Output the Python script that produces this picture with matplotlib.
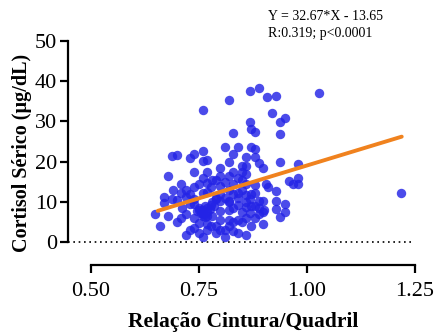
import matplotlib
matplotlib.use("Agg")
import matplotlib.pyplot as plt
import numpy as np

plt.rcParams['font.family'] = ['Liberation Serif', 'DejaVu Serif']

# Data
x_vals = [0.869, 0.889, 0.908, 0.929, 1.029, 0.819, 0.759, 0.920, 0.939, 0.949,
          0.869, 0.870, 0.880, 0.830, 0.939, 0.870, 0.880, 0.810, 0.840, 0.760,
          0.830, 0.689, 0.700, 0.729, 0.739, 0.769, 0.760, 0.859, 0.880, 0.819,
          0.939, 0.979, 0.889, 0.850, 0.859, 0.898, 0.800, 0.739, 0.769, 0.830,
          0.850, 0.679, 0.800, 0.819, 0.790, 0.810, 0.959, 0.979, 0.969, 0.979,
          0.709, 0.739, 0.769, 0.779, 0.830, 0.906, 0.910, 0.859, 0.880, 0.709,
          0.929, 1.219, 0.720, 0.760, 0.840, 0.859, 0.880, 0.670, 0.689, 0.739,
          0.790, 0.800, 0.819, 0.869, 0.889, 0.898, 0.929, 0.670, 0.729, 0.779,
          0.840, 0.949, 0.859, 0.889, 0.929, 0.750, 0.760, 0.769, 0.819, 0.800,
          0.720, 0.649, 0.869, 0.898, 0.949, 0.739, 0.709, 0.679, 0.760, 0.769,
          0.939, 0.800, 0.819, 0.830, 0.700, 0.850, 0.898, 0.659, 0.739, 0.779,
          0.769, 0.800, 0.830, 0.729, 0.720, 0.750, 0.760, 0.810, 0.859, 0.840,
          0.790,
          0.760, 0.770, 0.765, 0.750, 0.780, 0.790, 0.800, 0.810, 0.820, 0.830,
          0.840, 0.850, 0.860, 0.870, 0.880, 0.870, 0.860, 0.880, 0.890, 0.900,
          0.790, 0.810, 0.770, 0.750, 0.740, 0.730, 0.720, 0.750, 0.780, 0.800,
          0.820, 0.840, 0.850, 0.860, 0.830, 0.850, 0.870, 0.840, 0.820, 0.780,
          0.710, 0.700, 0.690, 0.760, 0.770, 0.755, 0.775, 0.765, 0.745, 0.785]
y_vals = [37.5, 38.4, 36.0, 36.2, 37.0, 35.3, 32.9, 32.0, 29.8, 30.8,
          29.8, 28.1, 27.4, 27.2, 26.8, 23.7, 23.1, 23.6, 23.6, 22.6,
          22.0, 21.4, 21.7, 21.0, 21.9, 20.4, 20.1, 21.2, 21.2, 19.9,
          19.9, 19.3, 19.6, 19.0, 18.8, 18.3, 18.3, 17.3, 17.3, 17.3,
          17.3, 16.3, 16.3, 16.3, 15.5, 15.0, 15.2, 15.9, 14.5, 14.5,
          14.4, 13.6, 14.6, 13.8, 14.5, 14.4, 13.8, 14.4, 14.2, 12.3,
          12.7, 12.3, 11.3, 12.1, 12.1, 11.7, 12.1, 11.3, 10.7, 10.7,
          10.7, 10.1, 10.1, 10.7, 10.1, 10.1, 10.1, 9.7, 9.4, 9.3,
          9.1, 9.4, 8.7, 8.4, 8.2, 8.0, 8.0, 8.4, 8.0, 7.6,
          7.0, 7.0, 7.2, 7.4, 7.4, 6.0, 6.0, 6.4, 6.5, 6.4,
          6.1, 5.5, 5.5, 5.1, 5.1, 4.9, 4.5, 4.1, 3.5, 3.9,
          3.1, 3.1, 2.8, 3.1, 1.8, 2.2, 1.2, 1.2, 1.8, 2.2,
          2.2,
          7.0, 7.5, 9.0, 8.5, 10.0, 11.0, 12.0, 11.0, 13.0, 12.0,
          11.0, 13.0, 10.0, 12.0, 9.0, 9.0, 6.0, 6.0, 7.0, 8.0,
          4.0, 3.0, 4.5, 4.8, 9.5, 12.0, 13.0, 14.5, 15.5, 14.0,
          10.0, 16.0, 15.5, 17.0, 8.5, 7.5, 4.0, 5.5, 4.0, 6.5,
          8.5, 10.5, 13.0, 16.0, 12.5, 7.2, 8.2, 6.2, 7.8, 9.0]

slope = 32.67
intercept = -13.65
fit_range = [0.655, 1.22]

xticks = [0.50, 0.75, 1.00, 1.25]
xtick_labels = ["0.50", "0.75", "1.00", "1.25"]
yticks = [0, 10, 20, 30, 40, 50]

fig = plt.figure(figsize=(4.37, 3.33), dpi=100)
ax = fig.add_axes([68/437, (333-265)/333, (419-68)/437, (265-41)/333])

ax.scatter(x_vals, y_vals, s=46, color='#2323e6', alpha=0.82, linewidths=0, zorder=3)
fx = np.array(fit_range)
ax.plot(fx, slope*fx + intercept, color='#f0821e', lw=2.8, solid_capstyle='round', zorder=4)
ax.plot([0.447, 1.245], [0, 0], color='black', ls=(0, (1, 2.2)), lw=1.2, zorder=2)

ax.set_xlim(0.447, 1.26)
ax.set_ylim(-5.72, 50)
ax.spines['top'].set_visible(False)
ax.spines['right'].set_visible(False)
ax.spines['left'].set_bounds(0, 50)
ax.spines['bottom'].set_bounds(0.5, 1.25)
ax.spines['left'].set_linewidth(1.6)
ax.spines['bottom'].set_linewidth(1.6)
ax.set_xticks(xticks)
ax.set_xticklabels(xtick_labels)
ax.set_yticks(yticks)
ax.tick_params(axis='both', length=6, width=1.6, labelsize=16, colors='black')
ax.tick_params(axis='x', pad=6)
ax.tick_params(axis='y', pad=2)

ax.set_xlabel("Relação Cintura/Quadril", fontsize=15.5, fontweight='bold', labelpad=8)
ax.set_ylabel("Cortisol Sérico (µg/dL)", fontsize=14.5, fontweight='bold', labelpad=2)

fig.text(268/437, 1 - 20/333, "Y = 32.67*X - 13.65", fontsize=10, ha='left', va='baseline')
fig.text(268/437, 1 - 37/333, "R:0.319; p<0.0001", fontsize=10, ha='left', va='baseline')

fig.savefig("out.png", dpi=100)
